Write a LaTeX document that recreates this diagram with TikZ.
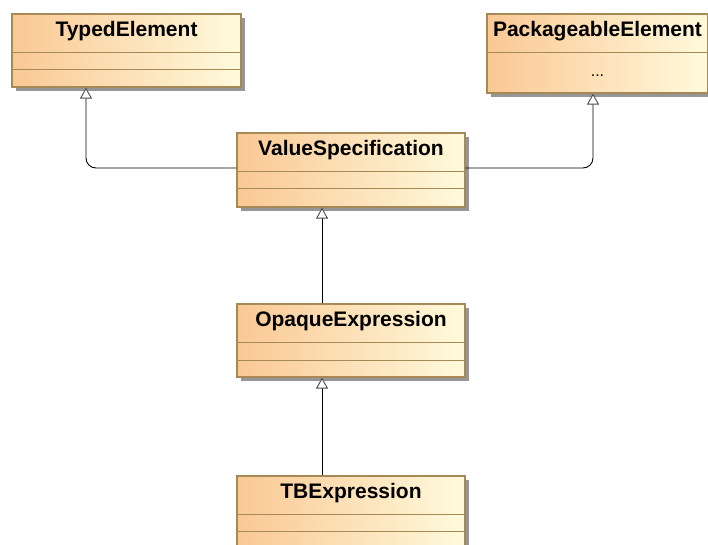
\documentclass[tikz,border=0pt]{standalone}
\usepackage{fontspec}
\setmainfont{Liberation Sans}
\usetikzlibrary{arrows.meta,shadows,positioning}

\definecolor{classleft}{RGB}{250,200,148}
\definecolor{classright}{RGB}{255,250,220}
\definecolor{classborder}{RGB}{165,138,88}
\definecolor{classshadow}{RGB}{150,150,150}

\begin{document}
\begin{tikzpicture}[x=1pt, y=-1pt,
    classbox/.style={draw=classborder, line width=1.2pt, inner sep=0pt,
        left color=classleft, right color=classright,
        drop shadow={shadow xshift=4pt, shadow yshift=-4pt, fill=classshadow, opacity=1}},
    classname/.style={anchor=base, font=\bfseries\fontsize{21}{21}\selectfont},
    classline/.style={draw=classborder, line width=1.2pt},
    inherit/.style={draw=black, line width=0.9pt, rounded corners=10pt,
        -{Triangle[fill=white, color=black!70, length=11pt, width=12pt]}}]
    \useasboundingbox (0,0) rectangle (708,545);

    % Top row: the two general classes
    \node[classbox, minimum width=229pt, minimum height=73pt] (typed) at (126.5, 50.5) {};
    \draw[classline] ([yshift=-39pt]typed.north west) -- ([yshift=-39pt]typed.north east);
    \draw[classline] ([yshift=-56pt]typed.north west) -- ([yshift=-56pt]typed.north east);
    \node[classname] (typedname) at ([yshift=-23.5pt]typed.north) {TypedElement};

    \node[classbox, minimum width=221pt, minimum height=79pt] (pack) at (597.5, 53.5) {};
    \draw[classline] ([yshift=-39pt]pack.north west) -- ([yshift=-39pt]pack.north east);
    \node[classname] (packname) at ([yshift=-23pt]pack.north) {PackageableElement};
    \node[anchor=base, font=\fontsize{16}{16}\selectfont] (packdots) at ([yshift=-63pt]pack.north) {...};

    % Middle column: ValueSpecification -> OpaqueExpression -> TBExpression
    \node[classbox, minimum width=228pt, minimum height=74pt] (valspec) at (351, 170) {};
    \draw[classline] ([yshift=-39pt]valspec.north west) -- ([yshift=-39pt]valspec.north east);
    \draw[classline] ([yshift=-56pt]valspec.north west) -- ([yshift=-56pt]valspec.north east);
    \node[classname] (valspecname) at ([yshift=-23pt]valspec.north) {ValueSpecification};

    \node[classbox, minimum width=228pt, minimum height=73pt] (opaque) at (351, 340.5) {};
    \draw[classline] ([yshift=-39pt]opaque.north west) -- ([yshift=-39pt]opaque.north east);
    \draw[classline] ([yshift=-57pt]opaque.north west) -- ([yshift=-57pt]opaque.north east);
    \node[classname] (opaquename) at ([yshift=-23pt]opaque.north) {OpaqueExpression};

    \node[classbox, minimum width=228pt, minimum height=73pt] (tbexpr) at (351, 512.5) {};
    \draw[classline] ([yshift=-39pt]tbexpr.north west) -- ([yshift=-39pt]tbexpr.north east);
    \draw[classline] ([yshift=-56pt]tbexpr.north west) -- ([yshift=-56pt]tbexpr.north east);
    \node[classname] (tbexprname) at ([yshift=-23pt]tbexpr.north) {TBExpression};

    % Generalizations
    \draw[inherit] ([yshift=2pt]valspec.west) -| ([xshift=-40.5pt]typed.south);
    \draw[inherit] ([yshift=2pt]valspec.east) -| ([xshift=-4.5pt]pack.south);
    \draw[inherit] ([xshift=-29pt]opaque.north) -- ([xshift=-29pt]valspec.south);
    \draw[inherit] ([xshift=-29pt]tbexpr.north) -- ([xshift=-29pt]opaque.south);
\end{tikzpicture}
\end{document}
